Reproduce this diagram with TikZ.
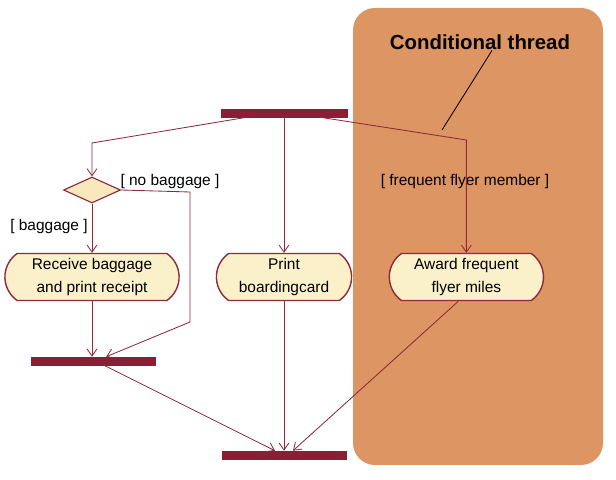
\documentclass[tikz,border=0pt]{standalone}
\usepackage{fontspec}
\setmainfont{Liberation Sans}
\usetikzlibrary{arrows.meta,shapes.geometric,shapes.misc}
\definecolor{flowred}{HTML}{8E2A3A}
\definecolor{barred}{HTML}{8B1E35}
\definecolor{statecream}{HTML}{FAF0CA}
\definecolor{choicecream}{HTML}{F8E8BC}
\definecolor{threadorange}{HTML}{DC9563}

\begin{document}
\begin{tikzpicture}[
    font=\fontsize{11}{16}\selectfont, >={Straight Barb[length=5pt,width=7pt]},
    flow/.style={draw=flowred, line width=0.6pt},
    syncbar/.style={fill=barred, draw=barred, rectangle, inner sep=0pt, minimum height=0.2cm},
    activity/.style={rounded rectangle, rounded rectangle arc length=110, draw=flowred, line width=1pt,
        fill=statecream, align=center, minimum height=1.175cm, inner sep=1pt},
    guard/.style={inner sep=1pt}
]

    % Frame
    \useasboundingbox (0,0) rectangle (15.4,12);

    % Conditional thread area
    \fill[threadorange, rounded corners=0.55cm] (8.825,0.375) rectangle (15.075,11.8);
    \node (threadlabel) at (12,10.95) {\fontsize{14.5}{16}\selectfont\bfseries Conditional thread};
    \coordinate (threadnote) at (11.05,8.75);
    \draw[black, line width=0.6pt] ([xshift=0.3cm,yshift=0.1cm]threadlabel.south) -- (threadnote);

    % Synchronisation bars
    \node[syncbar, minimum width=3.15cm] (fork) at (7.1,9.175) {};
    \node[syncbar, minimum width=3.1cm] (join) at (2.325,2.975) {};
    \node[syncbar, minimum width=3.1cm] (merge) at (7.1,0.625) {};

    % Decision
    \node[diamond, draw=flowred, line width=0.8pt, fill=choicecream, aspect=2.2,
        minimum width=1.425cm, minimum height=0.65cm, inner sep=0pt] (choice) at (2.3,7.25) {};

    % Activities
    \node[activity, minimum width=4.425cm] (receive) at (2.3,5.075) {Receive baggage\\and print receipt};
    \node[activity, minimum width=3.45cm] (print) at (7.1,5.075) {Print\\boardingcard};
    \node[activity, minimum width=3.925cm] (award) at (11.66,5.075) {Award frequent\\flyer miles};

    % Guards
    \node[guard] (nobag) at (4.25,7.45) {[ no baggage ]};
    \node[guard] (bag) at (1.225,6.325) {[ baggage ]};
    \node[guard] (member) at (11.625,7.45) {[ frequent flyer member ]};

    % Bends
    \coordinate (leftbend) at (2.3,8.425);
    \coordinate (rightbend) at (11.66,8.5);
    \coordinate (skiptop) at (4.75,7.2);
    \coordinate (skipbottom) at (4.75,3.95);

    % Flows out of the fork
    \draw[flow, ->] ([xshift=0.65cm]fork.south west) -- (leftbend) -- (choice.north);
    \draw[flow, ->] (fork.south) -- (print.north);
    \draw[flow, ->] ([xshift=-0.675cm]fork.south east) -- (rightbend) -- (award.north);

    % Decision branches
    \draw[flow, ->] (choice.south) -- (receive.north);
    \draw[flow, ->] (choice.east) -- (skiptop) -- (skipbottom) -- ([xshift=0.33cm]join.north);
    \draw[flow, ->] (receive.south) -- ([xshift=-0.025cm]join.north);

    % Into the final join
    \draw[flow, ->] ([xshift=0.275cm]join.south) -- ([xshift=-0.225cm]merge.north);
    \draw[flow, ->] (print.south) -- (merge.north);
    \draw[flow, ->] ([xshift=-0.2cm]award.south) -- ([xshift=0.225cm]merge.north);

\end{tikzpicture}
\end{document}
